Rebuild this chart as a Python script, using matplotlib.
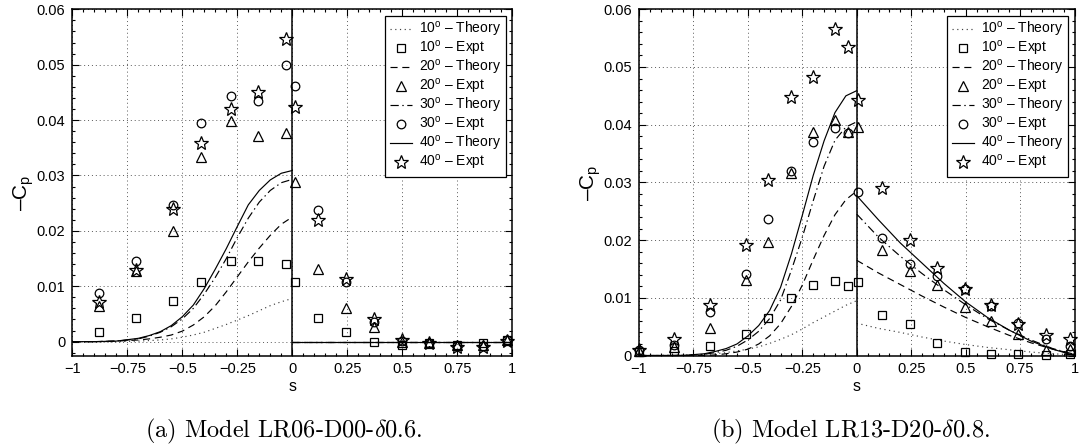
import matplotlib
matplotlib.use("Agg")
import matplotlib.pyplot as plt
from matplotlib.ticker import AutoMinorLocator, FixedLocator, FixedFormatter

plt.rcParams['font.family'] = ['Liberation Sans', 'DejaVu Sans']
plt.rcParams['mathtext.fontset'] = 'custom'
plt.rcParams['mathtext.rm'] = 'Liberation Sans'
plt.rcParams['mathtext.it'] = 'Liberation Sans:italic'
plt.rcParams['mathtext.bf'] = 'Liberation Sans:bold'

# ---------------- data ----------------
angles = [10, 20, 30, 40]

x_ticks = [-1, -0.75, -0.5, -0.25, 0, 0.25, 0.5, 0.75, 1]
x_ticklabels = ['\u22121', '\u22120.75', '\u22120.5', '\u22120.25', '0', '0.25', '0.5', '0.75', '1']
y_ticks = [0, 0.01, 0.02, 0.03, 0.04, 0.05, 0.06]
y_ticklabels = ['0', '0.01', '0.02', '0.03', '0.04', '0.05', '0.06']

# theory, suction side (s <= 0), common s grid
s_theory_neg = [-1.0, -0.9, -0.8, -0.7, -0.65, -0.6, -0.55, -0.5, -0.45, -0.4,
                -0.35, -0.3, -0.25, -0.2, -0.15, -0.1, -0.05, 0.0]
# theory, s >= 0
s_theory_pos_a = [0.0, 1.0]
s_theory_pos_b = [0.0, 0.1, 0.2, 0.3, 0.4, 0.5, 0.6, 0.7, 0.8, 0.9, 1.0]

# Panel (a): Model LR06-D00-delta0.6
a_th10_neg = [0, 0, 0, 0.0001, 0.0002, 0.0003, 0.0005, 0.0008, 0.0012, 0.0017,
              0.0024, 0.0031, 0.0039, 0.0047, 0.0056, 0.0065, 0.0072, 0.0078]
a_th20_neg = [0, 0, 0.0001, 0.0003, 0.0005, 0.0008, 0.0012, 0.0019, 0.0030, 0.0045,
              0.0065, 0.0090, 0.0117, 0.0144, 0.0169, 0.0192, 0.0212, 0.0225]
a_th30_neg = [0, 0, 0.0001, 0.0005, 0.0010, 0.0017, 0.0027, 0.0041, 0.0060, 0.0086,
              0.0116, 0.0150, 0.0188, 0.0223, 0.0252, 0.0273, 0.0287, 0.0293]
a_th40_neg = [0, 0, 0.0001, 0.0006, 0.0011, 0.0018, 0.0029, 0.0045, 0.0066, 0.0096,
              0.0131, 0.0168, 0.0208, 0.0247, 0.0273, 0.0292, 0.0304, 0.0309]
a_th10_pos = [0.0, 0.0]
a_th20_pos = [0.0, 0.0]
a_th30_pos = [0.0, 0.0]
a_th40_pos = [0.0, 0.0]

a_s_expt = [-0.88, -0.71, -0.54, -0.415, -0.28, -0.155, -0.03, 0.012,
            0.118, 0.245, 0.373, 0.5, 0.623, 0.747, 0.868, 0.977]
a_ex10 = [0.0018, 0.0042, 0.0074, 0.0107, 0.0146, 0.0146, 0.0140, 0.0108,
          0.0042, 0.0018, 0.0, -0.0006, -0.0003, -0.0006, -0.0003, 0.0003]
a_ex20 = [0.0064, 0.0127, 0.0199, 0.0333, 0.0398, 0.0371, 0.0377, 0.0288,
          0.0131, 0.0060, 0.0027, 0.0, -0.0003, -0.0006, -0.0006, 0.0003]
a_ex30 = [0.0087, 0.0145, 0.0247, 0.0394, 0.0443, 0.0435, 0.0500, 0.0462,
          0.0237, 0.0108, 0.0036, 0.0001, -0.0003, -0.0008, -0.0008, 0.0003]
a_ex40 = [0.0072, 0.0130, 0.0239, 0.0359, 0.0420, 0.0450, 0.0547, 0.0423,
          0.0220, 0.0114, 0.0040, 0.0003, -0.0003, -0.0009, -0.0009, 0.0002]

# Panel (b): Model LR13-D20-delta0.8
b_th10_neg = [0, 0, 0.0001, 0.0002, 0.0003, 0.0005, 0.0008, 0.0011, 0.0015, 0.0021,
              0.0028, 0.0036, 0.0046, 0.0057, 0.0067, 0.0077, 0.0087, 0.0095]
b_th20_neg = [0, 0, 0, 0, 0.0001, 0.0003, 0.0006, 0.0011, 0.0020, 0.0034,
              0.0055, 0.0085, 0.0122, 0.0166, 0.0208, 0.0244, 0.0270, 0.0285]
b_th30_neg = [0, 0, 0, 0.0002, 0.0005, 0.0009, 0.0016, 0.0027, 0.0042, 0.0064,
              0.0096, 0.0148, 0.0205, 0.0268, 0.0328, 0.0373, 0.0396, 0.0405]
b_th40_neg = [0, 0, 0, 0.0003, 0.0007, 0.0012, 0.0020, 0.0034, 0.0052, 0.0078,
              0.0118, 0.0176, 0.0243, 0.0312, 0.0372, 0.0421, 0.0450, 0.0459]
b_th10_pos = [0.0056, 0.0047, 0.0040, 0.0032, 0.0025, 0.0019, 0.0014, 0.0010, 0.0006, 0.0003, 0.0001]
b_th20_pos = [0.0165, 0.0143, 0.0123, 0.0103, 0.0084, 0.0066, 0.0050, 0.0035, 0.0022, 0.0011, 0.0002]
b_th30_pos = [0.0245, 0.0205, 0.0172, 0.0142, 0.0114, 0.0088, 0.0064, 0.0044, 0.0027, 0.0012, 0.0002]
b_th40_pos = [0.0277, 0.0235, 0.0195, 0.0160, 0.0125, 0.0093, 0.0066, 0.0044, 0.0025, 0.0011, 0.0]

b_s_expt = [-1.0, -0.84, -0.674, -0.508, -0.409, -0.3, -0.2015, -0.1015, -0.041, 0.006,
            0.115, 0.244, 0.368, 0.497, 0.618, 0.742, 0.868, 0.98]
b_ex10 = [0.0006, 0.0008, 0.0017, 0.0037, 0.0065, 0.0099, 0.0122, 0.0129, 0.0121, 0.0128,
          0.0070, 0.0054, 0.0021, 0.0006, 0.0002, 0.0002, 0.0001, 0.0002]
b_ex20 = [0.0008, 0.0015, 0.0047, 0.0131, 0.0196, 0.0316, 0.0387, 0.0409, 0.0388, 0.0396,
          0.0183, 0.0147, 0.0122, 0.0084, 0.0060, 0.0038, 0.0009, 0.0012]
b_ex30 = [0.0009, 0.0019, 0.0075, 0.0141, 0.0236, 0.0319, 0.0370, 0.0394, 0.0386, 0.0283,
          0.0203, 0.0158, 0.0137, 0.0116, 0.0086, 0.0057, 0.0028, 0.0016]
b_ex40 = [0.0010, 0.0028, 0.0088, 0.0192, 0.0304, 0.0448, 0.0483, 0.0565, 0.0534, 0.0442,
          0.0291, 0.0200, 0.0151, 0.0116, 0.0087, 0.0054, 0.0035, 0.0028]

captions = ['(a) Model LR06-D00-$\\delta$0.6.', '(b) Model LR13-D20-$\\delta$0.8.']

# ---------------- styles ----------------
line_styles = [(0, (1.0, 3.0)), (0, (6, 4)), (0, (7, 3, 1.2, 3)), '-']
line_colors = ['0.25', 'k', 'k', 'k']
markers = ['s', '^', 'o', '*']
msizes = [5.6, 6.6, 6.2, 10.5]

fig = plt.figure(figsize=(10.8, 4.48), dpi=100)
ax_a = fig.add_axes([72.3 / 1080, (448 - 355.5) / 448, 440 / 1080, 346.2 / 448])
ax_b = fig.add_axes([639 / 1080, (448 - 355.5) / 448, 435.5 / 1080, 346.2 / 448])

panels = [
    (ax_a, (-0.0025, 0.06), s_theory_pos_a,
     [a_th10_neg, a_th20_neg, a_th30_neg, a_th40_neg],
     [a_th10_pos, a_th20_pos, a_th30_pos, a_th40_pos],
     a_s_expt, [a_ex10, a_ex20, a_ex30, a_ex40], 0.47),
    (ax_b, (0.0, 0.06), s_theory_pos_b,
     [b_th10_neg, b_th20_neg, b_th30_neg, b_th40_neg],
     [b_th10_pos, b_th20_pos, b_th30_pos, b_th40_pos],
     b_s_expt, [b_ex10, b_ex20, b_ex30, b_ex40], 0.5),
]

for idx, (ax, ylim, s_pos, th_neg, th_pos, s_ex, ex, ylab_y) in enumerate(panels):
    handles = []
    labels = []
    for k, ang in enumerate(angles):
        ln, = ax.plot(s_theory_neg, th_neg[k], color=line_colors[k], lw=0.85,
                      linestyle=line_styles[k], zorder=3)
        ax.plot(s_pos, th_pos[k], color=line_colors[k], lw=0.85,
                linestyle=line_styles[k], zorder=3)
        mk, = ax.plot(s_ex, ex[k], linestyle='none', marker=markers[k],
                      markersize=msizes[k], markerfacecolor='none',
                      markeredgecolor='k', markeredgewidth=0.9,
                      clip_on=False, zorder=4)
        handles += [ln, mk]
        labels += ['%d$^{\\rm o}$ \u2013 Theory' % ang, '%d$^{\\rm o}$ \u2013 Expt' % ang]
    ax.axvline(0, color='k', lw=1.1, zorder=3)

    ax.set_xlim(-1, 1)
    ax.set_ylim(*ylim)
    ax.xaxis.set_major_locator(FixedLocator(x_ticks))
    ax.xaxis.set_major_formatter(FixedFormatter(x_ticklabels))
    ax.yaxis.set_major_locator(FixedLocator(y_ticks))
    ax.yaxis.set_major_formatter(FixedFormatter(y_ticklabels))
    ax.xaxis.set_minor_locator(AutoMinorLocator(5))
    ax.yaxis.set_minor_locator(AutoMinorLocator(5))
    ax.tick_params(which='both', direction='in', top=True, right=True,
                   labelsize=10.5, width=0.8, colors='k')
    ax.tick_params(which='major', length=5, pad=5)
    ax.tick_params(which='minor', length=2.5)
    ax.grid(True, which='major', color='0.35', linestyle=(0, (1, 3)), lw=0.7)
    ax.set_axisbelow(True)
    for sp in ax.spines.values():
        sp.set_linewidth(1.1)

    ax.set_xlabel('s', fontsize=11.5, labelpad=2)
    ax.set_ylabel('\u2013C$_{\\rm p}$', fontsize=15)
    ax.yaxis.set_label_coords(-36.0 / 440, ylab_y)

    leg = ax.legend(handles, labels, loc='upper right', fontsize=10,
                    frameon=True, fancybox=False, framealpha=1,
                    edgecolor='k', handlelength=1.6, handletextpad=0.5,
                    labelspacing=0.0, borderpad=0.35, borderaxespad=0.45)
    leg.get_frame().set_linewidth(0.9)

    cx = ax.get_position().x0 + 220 / 1080
    fig.text(cx - 0.008, 1 - 437 / 448, captions[idx], ha='center', va='baseline',
             fontsize=17.5, family='cmr10', math_fontfamily='cm')

fig.savefig('out.png', dpi=100)
